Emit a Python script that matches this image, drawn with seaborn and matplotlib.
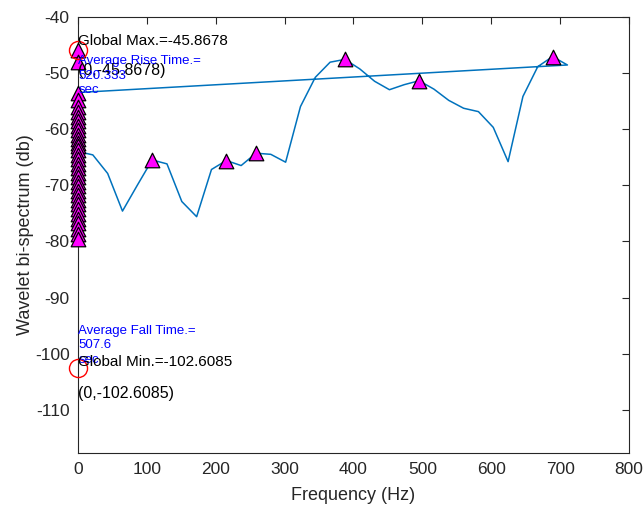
import matplotlib
matplotlib.use("Agg")
import matplotlib.pyplot as plt
import seaborn as sns
import pandas as pd

# Bispectrum slice: frequency bins (Hz) and level (dB)
freqs = [0.0, 21.53, 43.07, 64.60, 86.13, 107.67, 129.20, 150.73, 172.27, 193.80,
         215.33, 236.87, 258.40, 279.93, 301.47, 323.00, 344.53, 366.07, 387.60,
         409.13, 430.67, 452.20, 473.73, 495.27, 516.80, 538.33, 559.87, 581.40,
         602.93, 624.47, 646.00, 667.53, 689.07, 710.60]
spectrum = [-64.0, -64.6, -67.9, -74.6, -70.0, -65.5, -66.2, -72.9, -75.6, -67.2,
            -65.6, -66.5, -64.3, -64.5, -65.9, -56.0, -50.8, -48.1, -47.6,
            -49.3, -51.5, -53.0, -52.1, -51.4, -52.9, -54.9, -56.3, -56.9,
            -59.7, -65.8, -54.2, -48.9, -47.1, -48.6]

# Extra DC (0 Hz) samples on the trace: before and after the sweep
dc_lead = [-102.6085, -45.8678]
dc_tail = [-53.5]

# Detected peaks at 0 Hz
dc_peaks = [-45.8678, -48.0, -53.6, -54.8, -56.0, -57.0, -57.8, -58.6, -59.4,
            -60.2, -61.0, -61.8, -62.4, -63.0, -63.8, -64.6, -65.4, -66.2,
            -67.0, -67.8, -68.6, -69.4, -70.2, -71.0, -71.8, -72.6, -73.4,
            -74.3, -75.2, -76.0, -76.8, -77.8, -78.6, -79.5]
# Indices of peaks along the sweep
peak_idx = [5, 10, 12, 18, 23, 32]

global_max = -45.8678
global_min = -102.6085
rise_time = "520.333"
fall_time = "507.6"

sns.set_theme(style="white")
plt.rcParams["font.family"] = ["Liberation Sans", "DejaVu Sans"]
plt.rcParams["axes.unicode_minus"] = False

trace = pd.DataFrame({
    "f": [0.0] * len(dc_lead) + freqs + [0.0] * len(dc_tail),
    "db": dc_lead + spectrum + dc_tail,
})

peaks = pd.DataFrame({
    "f": [0.0] * len(dc_peaks) + [freqs[i] for i in peak_idx],
    "db": dc_peaks + [spectrum[i] for i in peak_idx],
})

fig = plt.figure(figsize=(6.44, 5.05), dpi=100)
ax = fig.add_axes([0.1211, 0.1036, 0.8556, 0.8634])

sns.lineplot(data=trace, x="f", y="db", sort=False, estimator=None,
             color="#0072BD", linewidth=1.1, ax=ax, zorder=2)
sns.scatterplot(data=peaks, x="f", y="db", marker="^", s=110, color="#FF00FF",
                edgecolor="black", linewidth=0.9, ax=ax, zorder=3)
for coll in ax.collections:
    coll.set_clip_on(False)
ax.plot([0, 0], [global_max, global_min], linestyle="none", marker="o",
        markersize=13, markerfacecolor="none", markeredgecolor="red",
        markeredgewidth=1.0, zorder=4, clip_on=False)

ax.set_xlim(0, 800)
ax.set_ylim(-117.6, -40)
ax.set_xticks(range(0, 801, 100))
ax.set_yticks(range(-110, -39, 10))
ax.set_xlabel("Frequency (Hz)", fontsize=13, color="#262626", labelpad=7)
ax.set_ylabel("Wavelet bi-spectrum (db)", fontsize=13, color="#262626", labelpad=1)
ax.tick_params(axis="both", direction="in", length=5, width=0.8, labelsize=12.5,
               colors="#262626", top=True, right=True)
ax.tick_params(axis="y", pad=6)
ax.tick_params(axis="x", pad=7)
for sp in ax.spines.values():
    sp.set_color("#262626")
    sp.set_linewidth(0.8)

txt_x = 0.6
ax.text(txt_x, -44.3, f"Global Max.={global_max}", fontsize=11, color="black",
        va="center", ha="left", zorder=5)
ax.text(txt_x, -49.6, f"(0,{global_max})", fontsize=11.5, color="black",
        va="center", ha="left", zorder=5)
ax.text(txt_x, -50.5, f"Average Rise Time.=\n{rise_time}\nsec", fontsize=9.5,
        color="#0000FF", va="center", ha="left", linespacing=1.3, zorder=5)
ax.text(txt_x, -98.5, f"Average Fall Time.=\n{fall_time}\nsec", fontsize=9.5,
        color="#0000FF", va="center", ha="left", linespacing=1.3, zorder=5)
ax.text(txt_x, -101.5, f"Global Min.={global_min}", fontsize=11, color="black",
        va="center", ha="left", zorder=5)
ax.text(txt_x, -107.0, f"(0,{global_min})", fontsize=11.5, color="black",
        va="center", ha="left", zorder=5)

fig.savefig("out.png", dpi=100)
